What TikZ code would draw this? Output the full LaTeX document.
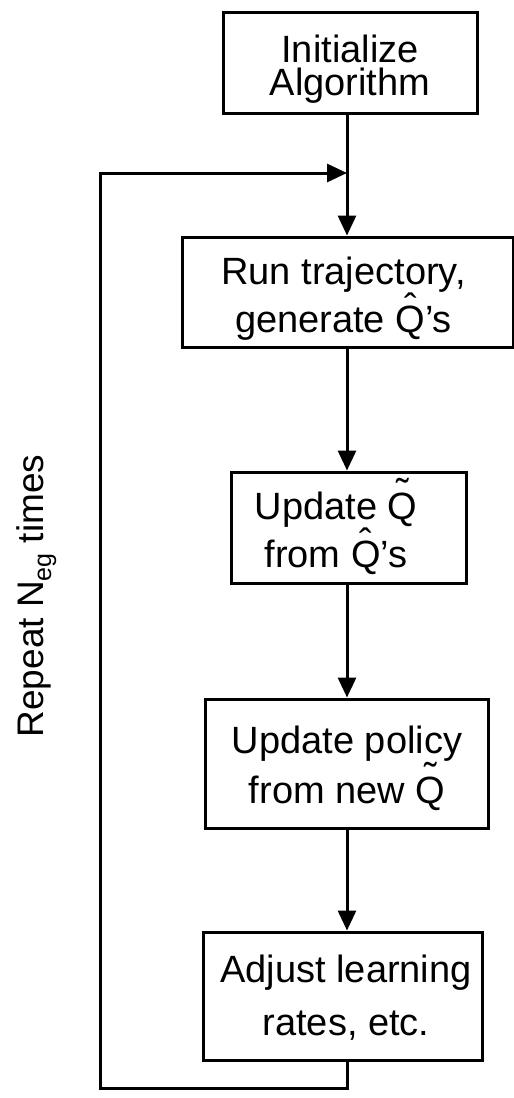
\documentclass[tikz,border=0pt]{standalone}
\usepackage{fontspec}
\setmainfont{Liberation Sans}
\usetikzlibrary{arrows.meta}
\newsavebox{\qbox}
\newcommand{\Qh}{\sbox{\qbox}{Q}\makebox[0pt][l]{\makebox[\wd\qbox][c]{\raisebox{0.3em}{\char"02C6}}}Q}
\newcommand{\Qt}{\sbox{\qbox}{Q}\makebox[0pt][l]{\makebox[\wd\qbox][c]{\raisebox{0.36em}{\char"02DC}}}Q}
\begin{document}
\begin{tikzpicture}[x=1pt,y=-1pt,
  box/.style={draw, line width=3pt, inner sep=0pt},
  txt/.style={align=center, inner sep=0pt, anchor=base},
  conn/.style={line width=3pt, -{Triangle[length=20pt,width=18pt]}}]
\useasboundingbox (0,0) rectangle (514,1098);
% boxes
\node[box, minimum width=254pt, minimum height=101pt] (init) at (350,62.5) {};
\node[box, minimum width=331pt, minimum height=110pt] (run) at (347.5,292) {};
\node[box, minimum width=235pt, minimum height=111pt] (updq) at (348.5,527.5) {};
\node[box, minimum width=283pt, minimum height=129pt] (updp) at (346.5,763.5) {};
\node[box, minimum width=279pt, minimum height=128pt] (adj) at (342.5,996) {};
% texts (anchor = baseline of the last line)
\node[txt, font=\fontsize{38}{33}\selectfont] (initT) at (350,95) {Initialize\\Algorithm};
\node[txt, font=\fontsize{38}{40}\selectfont] (runT) at (343.5,332) {Run trajectory,\\generate \Qh’s};
\node[txt, font=\fontsize{38}{45}\selectfont] (updqT) at (336,567) {Update \Qt\\from \Qh’s};
\node[txt, font=\fontsize{38}{50}\selectfont] (updpT) at (347,803) {Update policy\\from new \Qt};
\node[txt, font=\fontsize{38}{53}\selectfont] (adjT) at (346,1035) {Adjust learning\\rates, etc.};
\node[rotate=90, anchor=base, inner sep=0pt, font=\fontsize{37}{40}\selectfont] (rep) at (43,596)
  {Repeat N\raisebox{-0.22em}{\fontsize{25}{25}\selectfont eg} times};
% connectors
\coordinate (j) at (347,173);
\coordinate (lb) at (100,1088);
\draw[conn] (init.south -| j) -- (run.north -| j);
\draw[conn] (run.south -| j) -- (updq.north -| j);
\draw[conn] (updq.south -| j) -- (updp.north -| j);
\draw[conn] (updp.south -| j) -- (adj.north -| j);
\draw[conn] (adj.south -| j) -- (j |- lb) -- (lb) -- (lb |- j) -- (j);
\end{tikzpicture}
\end{document}
